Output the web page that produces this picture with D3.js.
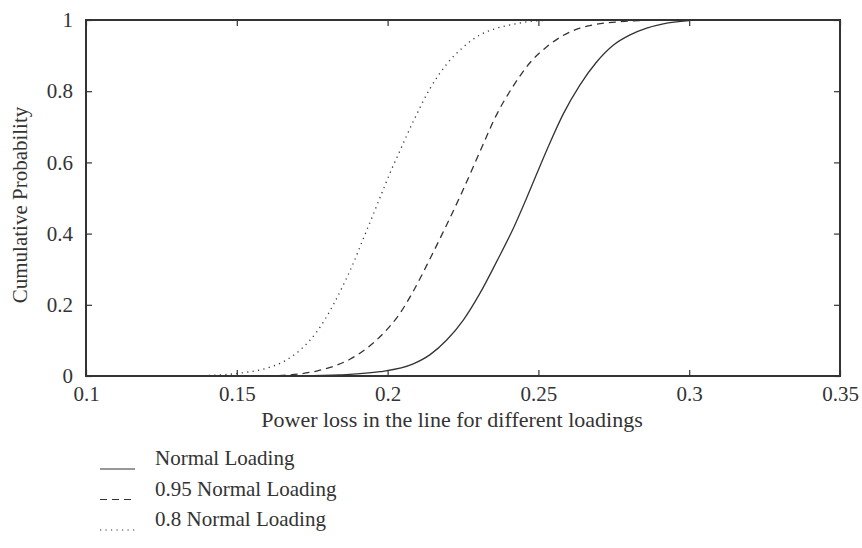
<!DOCTYPE html>
<html>
<head>
<meta charset="utf-8">
<script src="https://cdn.jsdelivr.net/npm/d3@7"></script>
<style>
  body { margin: 0; background: #fff; }
  text { font-family: "Liberation Serif", "DejaVu Serif", serif; fill: #333; }
</style>
</head>
<body>
<div id="drawing"></div>
<script>
// power loss [x] vs cumulative probability [y]
const normalX = [0.171, 0.184, 0.1975, 0.2085, 0.2141, 0.2196, 0.2251, 0.2306, 0.2362, 0.2417, 0.2461,
                 0.2528, 0.2583, 0.2638, 0.2693, 0.2748, 0.2804, 0.2859, 0.2914, 0.3];
const normalY = [0.0, 0.003, 0.012, 0.034, 0.060, 0.101, 0.157, 0.232, 0.322, 0.415, 0.500,
                 0.635, 0.737, 0.818, 0.882, 0.929, 0.958, 0.977, 0.989, 0.998];

const load95X = [0.1599, 0.171, 0.1765, 0.182, 0.1875, 0.1931, 0.1986, 0.2041, 0.2085, 0.2141, 0.2196,
                 0.2246, 0.2306, 0.2362, 0.2417, 0.2472, 0.2528, 0.2583, 0.2638, 0.2693, 0.2771, 0.288];
const load95Y = [0.0, 0.006, 0.014, 0.027, 0.047, 0.078, 0.120, 0.176, 0.238, 0.330, 0.425,
                 0.515, 0.630, 0.735, 0.815, 0.880, 0.925, 0.957, 0.977, 0.988, 0.995, 1.0];

const load80X = [0.1389, 0.1488, 0.1544, 0.1599, 0.1654, 0.171, 0.1765, 0.182, 0.1851, 0.1889, 0.1919,
                 0.1953, 0.198, 0.2014, 0.203, 0.2085, 0.2141, 0.2196, 0.2251, 0.2306, 0.2362, 0.2417,
                 0.2483, 0.2572];
const load80Y = [0.001, 0.006, 0.012, 0.022, 0.040, 0.073, 0.124, 0.200, 0.252, 0.322, 0.385,
                 0.455, 0.512, 0.582, 0.612, 0.715, 0.808, 0.876, 0.924, 0.958, 0.977, 0.988,
                 0.997, 1.0];

const seriesNames = ["Normal Loading", "0.95 Normal Loading", "0.8 Normal Loading"];
const xTicks = [0.1, 0.15, 0.2, 0.25, 0.3, 0.35];
const yTicks = [0, 0.2, 0.4, 0.6, 0.8, 1];

const width = 862, height = 548;
const plotL = 86, plotR = 840, plotT = 20, plotB = 376;
const ink = "#333";
const fontSize = "21px";

const svg = d3.select("#drawing").append("svg")
    .attr("width", width)
    .attr("height", height);

const x = d3.scaleLinear().domain([0.1, 0.35]).range([plotL, plotR]);
const y = d3.scaleLinear().domain([0, 1]).range([plotB, plotT]);

// axes, ticks pointing into the plot
const fmt = d3.format("~g");
function styleAxis(g) {
    g.select(".domain").remove();
    g.selectAll(".tick line").attr("stroke", ink).attr("stroke-width", 1.2);
    g.selectAll(".tick text").style("font-size", fontSize).attr("fill", ink);
}
svg.append("g").attr("transform", `translate(0,${plotB})`)
    .call(d3.axisBottom(x).tickValues(xTicks).tickFormat(fmt).tickSize(-6).tickPadding(10))
    .call(styleAxis);
svg.append("g").attr("transform", `translate(0,${plotT})`)
    .call(d3.axisTop(x).tickValues(xTicks).tickFormat("").tickSize(-6))
    .call(styleAxis);
svg.append("g").attr("transform", `translate(${plotL},0)`)
    .call(d3.axisLeft(y).tickValues(yTicks).tickFormat(fmt).tickSize(-6).tickPadding(13))
    .call(styleAxis);
svg.append("g").attr("transform", `translate(${plotR},0)`)
    .call(d3.axisRight(y).tickValues(yTicks).tickFormat("").tickSize(-6))
    .call(styleAxis);

svg.append("rect")
    .attr("x", plotL).attr("y", plotT)
    .attr("width", plotR - plotL).attr("height", plotB - plotT)
    .attr("fill", "none").attr("stroke", ink).attr("stroke-width", 2);

// curves
const series = [
    { name: seriesNames[0], xs: normalX, ys: normalY, dash: null },
    { name: seriesNames[1], xs: load95X, ys: load95Y, dash: "7,5" },
    { name: seriesNames[2], xs: load80X, ys: load80Y, dash: "1.2,4.3" }
];

const line = d3.line()
    .x(function (d) { return x(d[0]); })
    .y(function (d) { return y(d[1]); })
    .curve(d3.curveMonotoneX);

series.forEach(function (s) {
    const pts = s.xs.map(function (v, i) { return [v, s.ys[i]]; });
    svg.append("path")
        .attr("d", line(pts))
        .attr("fill", "none")
        .attr("stroke", ink)
        .attr("stroke-width", 1.3)
        .attr("stroke-dasharray", s.dash);
});

// axis titles
svg.append("text")
    .attr("x", 452).attr("y", 427)
    .attr("text-anchor", "middle")
    .style("font-size", "22px")
    .text("Power loss in the line for different loadings");

svg.append("text")
    .attr("transform", `translate(27,205) rotate(-90)`)
    .attr("text-anchor", "middle")
    .style("font-size", fontSize)
    .text("Cumulative Probability");

// legend
const legend = svg.append("g");
series.forEach(function (s, i) {
    const ly = 469 + i * 30.5;
    legend.append("line")
        .attr("x1", 100).attr("x2", 135)
        .attr("y1", ly).attr("y2", ly)
        .attr("stroke", ink)
        .attr("stroke-width", 1.2)
        .attr("stroke-dasharray", s.dash);
    legend.append("text")
        .attr("x", 155).attr("y", ly - 4)
        .style("font-size", fontSize)
        .text(s.name);
});
</script>
</body>
</html>
